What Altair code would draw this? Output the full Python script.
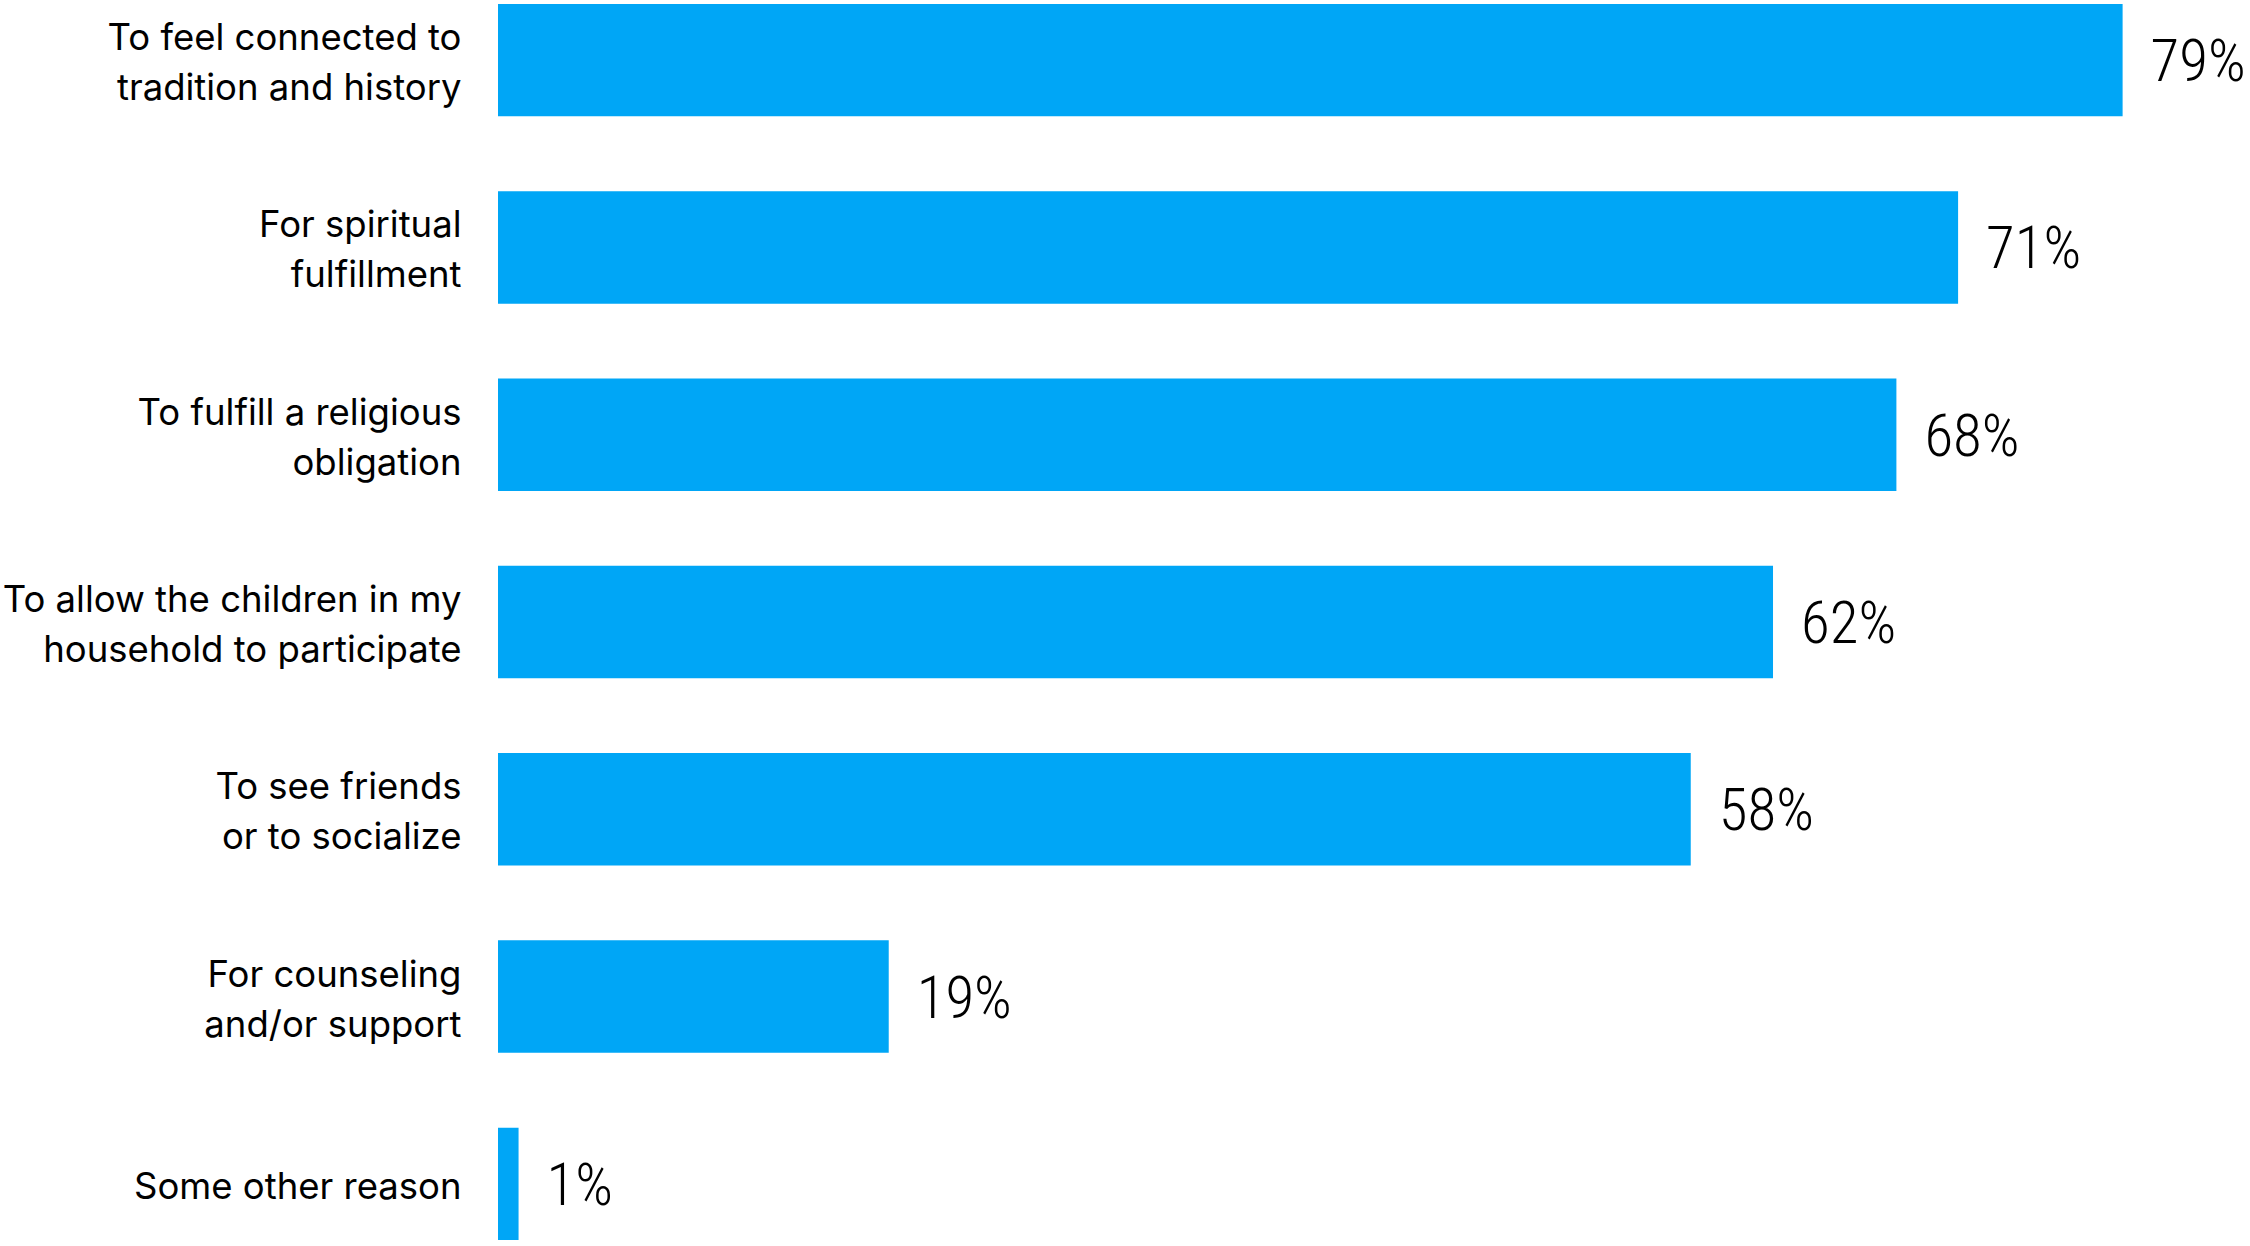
import altair as alt
import pandas as pd

reasons = [
    "To feel connected to|tradition and history",
    "For spiritual|fulfillment",
    "To fulfill a religious|obligation",
    "To allow the children in my|household to participate",
    "To see friends|or to socialize",
    "For counseling|and/or support",
    "Some other reason",
]
values = [79, 71, 68, 62, 58, 19, 1]
labels = [f"{v}%" for v in values]

df = pd.DataFrame({"reason": reasons, "value": values, "label": labels})

y_enc = alt.Y(
    "reason:N",
    sort=reasons,
    scale=alt.Scale(paddingInner=0.4, paddingOuter=0),
    axis=alt.Axis(
        title=None,
        domain=False,
        ticks=False,
        grid=False,
        labelExpr="split(datum.label, '|')",
        labelFont="Inter",
        labelFontSize=36.5,
        labelColor="#000000",
        labelLineHeight=50,
        labelPadding=37,
        labelLimit=0,
        labelOffset={
            "condition": {"test": "indexof(datum.value, '|') >= 0", "value": -21},
            "value": 4,
        },
    ),
)
x_enc = alt.X(
    "value:Q",
    scale=alt.Scale(domain=[0, 85], nice=False),
    axis=None,
)

bars = alt.Chart(df).mark_bar(color="#00A6F6").encode(x=x_enc, y=y_enc)
text = alt.Chart(df).mark_text(
    align="left",
    baseline="middle",
    dx=28,
    dy=3,
    font="Roboto Condensed, Roboto",
    fontWeight=300,
    fontSize=59,
    color="#000000",
).encode(x=x_enc, y=y_enc, text="label:N")

chart = (
    alt.layer(bars, text)
    .properties(
        width=1748,
        height=1236,
        view=alt.ViewBackground(stroke="transparent", strokeWidth=0),
        autosize=alt.AutoSizeParams(type="none"),
        padding={"left": 498, "top": 4, "right": 4, "bottom": 6},
    )
    .configure_view(stroke="transparent", strokeWidth=0)
    .configure(background="white")
)

chart.save("out.html", embed_options={"renderer": "svg", "actions": False})
